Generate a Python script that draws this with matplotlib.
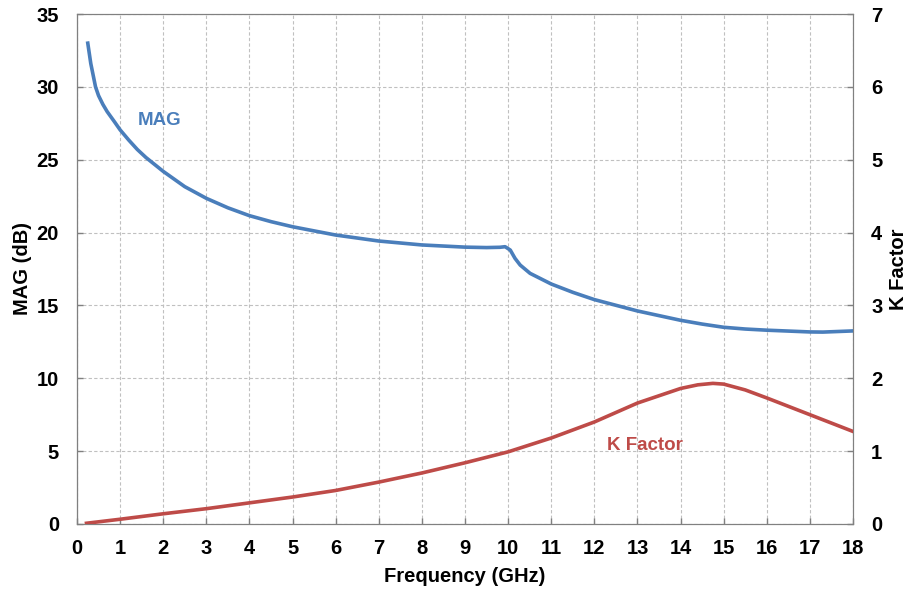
import matplotlib.pyplot as plt
import numpy as np

plt.rcParams['font.family'] = ['Liberation Sans', 'DejaVu Sans']
plt.rcParams['font.weight'] = 'bold'

# data
freq_mag = [0.25, 0.32, 0.43, 0.5, 0.6, 0.7, 0.87, 1.0, 1.2, 1.4, 1.6, 2.0, 2.5,
            3.0, 3.5, 4.0, 4.5, 5.0, 6.0, 7.0, 8.0, 9.0, 9.5, 9.81, 9.93, 10.05,
            10.16, 10.28, 10.51, 11.0, 11.5, 12.0, 13.0, 14.0, 14.5, 15.0, 15.5,
            16.0, 17.0, 17.3, 18.0]
mag_db = [33.0, 31.6, 30.0, 29.4, 28.8, 28.3, 27.6, 27.05, 26.35, 25.7, 25.15,
          24.2, 23.15, 22.35, 21.7, 21.16, 20.75, 20.4, 19.83, 19.42, 19.15, 19.0,
          18.97, 18.99, 19.03, 18.8, 18.23, 17.77, 17.2, 16.47, 15.9, 15.4, 14.62,
          13.98, 13.72, 13.5, 13.38, 13.3, 13.18, 13.17, 13.25]

freq_k = [0.22, 1, 2, 3, 4, 5, 6, 7, 8, 9, 10, 11, 12, 13, 14, 14.4, 14.75, 15,
          15.5, 16, 17, 18]
k_factor = [0.01, 0.065, 0.14, 0.21, 0.29, 0.37, 0.46, 0.575, 0.70, 0.84, 0.99,
            1.18, 1.40, 1.66, 1.86, 1.91, 1.93, 1.92, 1.84, 1.73, 1.50, 1.27]

blue = '#4a7ebb'
red = '#be4b48'

fig = plt.figure(figsize=(9.09, 5.91), dpi=100)
ax = fig.add_axes([0.0847, 0.1134, 0.8537, 0.8629])
ax2 = ax.twinx()

ax.plot(freq_mag, mag_db, color=blue, lw=2.6, zorder=3, solid_joinstyle='round')
ax2.plot(freq_k, k_factor, color=red, lw=2.6, zorder=3, solid_joinstyle='round')

ax.set_xlim(0, 18)
ax.set_ylim(0, 35)
ax2.set_ylim(0, 7)
ax.set_xticks(np.arange(0, 19, 1))
ax.set_yticks(np.arange(0, 36, 5))
ax2.set_yticks(np.arange(0, 8, 1))

ax.grid(True, color='#c0c0c0', linestyle=(0, (3, 2)), lw=0.8)
ax.set_axisbelow(True)

for a in (ax, ax2):
    for s in a.spines.values():
        s.set_color('#808080')
    a.tick_params(direction='in', length=4, color='#808080', labelsize=14.5, width=1)
ax.spines['left'].set_color('#404040')
ax.tick_params(axis='x', pad=11)
ax.tick_params(axis='y', pad=13)
ax2.tick_params(axis='y', pad=13)

ax.set_xlabel('Frequency (GHz)', fontsize=14.5, fontweight='bold', labelpad=6)
ax.set_ylabel('MAG (dB)', fontsize=14.5, fontweight='bold', labelpad=3)
ax2.set_ylabel('K Factor', fontsize=14.5, fontweight='bold', labelpad=5)

ax.text(1.42, 27.7, 'MAG', color=blue, fontsize=13.5, fontweight='bold', va='center')
ax.text(12.3, 5.42, 'K Factor', color=red, fontsize=13.5, fontweight='bold', va='center')

fig.savefig('out.png', dpi=100)
